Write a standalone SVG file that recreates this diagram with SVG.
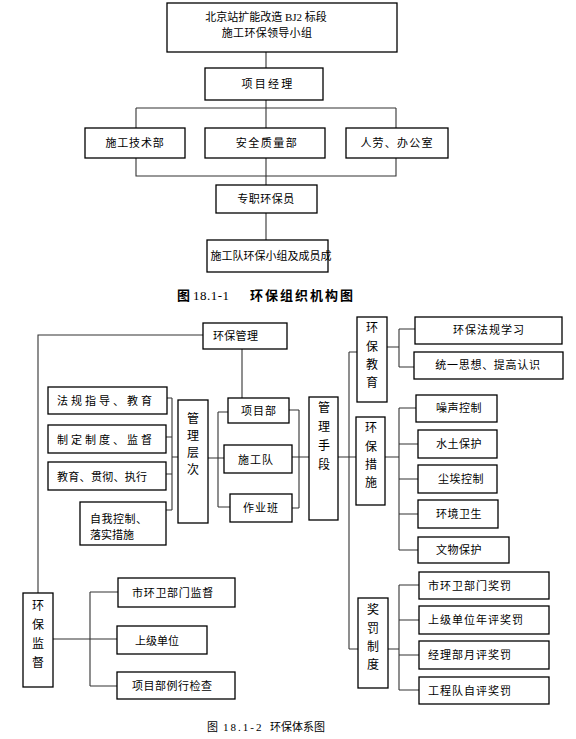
<svg xmlns="http://www.w3.org/2000/svg" width="576" height="739" viewBox="0 0 576 739">
<style>
.b{fill:#fff;stroke:#000;stroke-width:1.3}
.c{fill:none;stroke:#333;stroke-width:1.1}
text{font-family:"Liberation Serif","Noto Sans CJK SC",serif;fill:#000;font-size:11px}
.m{text-anchor:middle}
.v{text-anchor:middle;font-size:12px}
.cap{font-size:13px;font-weight:bold}
</style>
<rect width="576" height="739" fill="#fff"/>
<g id="connectors">
<path class="c" d="M266 52V68M266 100V128M136 108H396M136 108V128M396 108V128M136 158V176H396V158M266 158V185M266 213V240"/>
<path class="c" d="M203 335H38V593"/>
<path class="c" d="M242 349V398"/>
<path class="c" d="M167 398H172M166 437H172M166 474H172M166 510H172M172 398V510M172 457H178"/>
<path class="c" d="M208 458H218M218 412V507M218 412H228M218 458H224M218 507H230"/>
<path class="c" d="M289 410H299M292 508H299M299 410V508M292 457H309"/>
<path class="c" d="M338 457H356M349 352V649M349 352H357M349 649H358"/>
<path class="c" d="M387 347H399M399 329V367M399 329H415M399 367H414"/>
<path class="c" d="M385 457H399M399 408V550M399 408H416M399 444H418M399 479H418M399 514H418M399 550H418"/>
<path class="c" d="M388 649H399M399 585V690M399 585H419M399 620H419M399 655H419M399 690H419"/>
<path class="c" d="M53 639H117M90 592V686M90 592H118M90 686H117"/>
</g>
<g id="n_top"><rect class="b" x="167" y="3" width="230" height="49"/>
<text class="m" x="266" y="21">北京站扩能改造 BJ2 标段</text>
<text class="m" x="267" y="37" letter-spacing="0.3">施工环保领导小组</text></g>
<g id="n_xmjl"><rect class="b" x="205" y="68" width="118" height="32"/><text class="m" x="268" y="88" letter-spacing="2.3">项目经理</text></g>
<g id="n_sgjsb"><rect class="b" x="85" y="128" width="100" height="30"/><text class="m" x="135" y="147" letter-spacing="0.8">施工技术部</text></g>
<g id="n_aqzlb"><rect class="b" x="205" y="128" width="120" height="30"/><text class="m" x="267" y="147" letter-spacing="1.5">安全质量部</text></g>
<g id="n_rlbgs"><rect class="b" x="346" y="128" width="102" height="30"/><text class="m" x="397" y="147" letter-spacing="1.2">人劳、办公室</text></g>
<g id="n_zzhby"><rect class="b" x="216" y="185" width="101" height="28"/><text class="m" x="266" y="203" letter-spacing="0.5">专职环保员</text></g>
<g id="n_sgd"><rect class="b" x="207" y="240" width="121" height="32"/><text class="m" x="271" y="260" font-size="10.5">施工队环保小组及成员成</text></g>
<text class="cap" x="177" y="300">图<tspan x="193" font-weight="normal" letter-spacing="0.5">18.1-1</tspan><tspan x="250" letter-spacing="2">环保组织机构图</tspan></text>

<g id="n_hbgl"><rect class="b" x="203" y="323" width="84" height="26"/><text x="213" y="340" letter-spacing="0.3">环保管理</text></g>
<g id="n_fg"><rect class="b" x="48" y="387" width="119" height="27"/><text x="57" y="405" font-size="14" letter-spacing="3">法规指导、教育</text></g>
<g id="n_zd"><rect class="b" x="48" y="425" width="118" height="28"/><text x="57" y="444" font-size="14" letter-spacing="3">制定制度、监督</text></g>
<g id="n_jy"><rect class="b" x="48" y="462" width="118" height="28"/><text x="57" y="481" font-size="14" letter-spacing="0.3">教育、贯彻、执行</text></g>
<g id="n_zw"><rect class="b" x="80" y="502" width="86" height="43"/><text x="90" y="523" font-size="13" letter-spacing="0.5">自我控制、</text><text x="90" y="539" font-size="13">落实措施</text></g>
<g id="n_glcc"><rect class="b" x="178" y="400" width="30" height="123"/>
<text class="v" font-size="13" x="193" y="423">管</text><text class="v" font-size="13" x="193" y="440">理</text><text class="v" font-size="13" x="193" y="457">层</text><text class="v" font-size="13" x="193" y="474">次</text></g>
<g id="n_xmb"><rect class="b" x="228" y="398" width="61" height="25"/><text class="m" x="259" y="415" letter-spacing="1">项目部</text></g>
<g id="n_sgd2"><rect class="b" x="224" y="445" width="68" height="28"/><text class="m" x="256" y="464" letter-spacing="1">施工队</text></g>
<g id="n_zyb"><rect class="b" x="230" y="494" width="62" height="28"/><text class="m" x="261" y="512" letter-spacing="1">作业班</text></g>
<g id="n_glsd"><rect class="b" x="309" y="397" width="29" height="123"/>
<text class="v" x="324" y="412">管</text><text class="v" x="324" y="431">理</text><text class="v" x="324" y="450">手</text><text class="v" x="324" y="469">段</text></g>
<g id="n_hbjy"><rect class="b" x="357" y="317" width="30" height="85"/>
<text class="v" x="372" y="332">环</text><text class="v" x="372" y="351">保</text><text class="v" x="372" y="369">教</text><text class="v" x="372" y="387">育</text></g>
<g id="n_fgxx"><rect class="b" x="415" y="317" width="147" height="27"/><text class="m" x="489" y="334" letter-spacing="1">环保法规学习</text></g>
<g id="n_tysx"><rect class="b" x="414" y="352" width="149" height="27"/><text class="m" x="488" y="369" letter-spacing="0.7">统一思想、提高认识</text></g>
<g id="n_hbcs"><rect class="b" x="356" y="417" width="29" height="88"/>
<text class="v" x="371" y="432">环</text><text class="v" x="371" y="451">保</text><text class="v" x="371" y="469">措</text><text class="v" x="371" y="487">施</text></g>
<g id="n_zs"><rect class="b" x="416" y="395" width="81" height="27"/><text class="m" x="459" y="412" letter-spacing="0.5">噪声控制</text></g>
<g id="n_st"><rect class="b" x="418" y="430" width="79" height="28"/><text class="m" x="459" y="448" letter-spacing="0.5">水土保护</text></g>
<g id="n_ca"><rect class="b" x="418" y="465" width="79" height="28"/><text class="m" x="461" y="483" letter-spacing="0.5">尘埃控制</text></g>
<g id="n_hj"><rect class="b" x="418" y="500" width="80" height="28"/><text class="m" x="459" y="518" letter-spacing="0.5">环境卫生</text></g>
<g id="n_ww"><rect class="b" x="418" y="537" width="91" height="26"/><text class="m" x="459" y="554" letter-spacing="0.5">文物保护</text></g>
<g id="n_jfzd"><rect class="b" x="358" y="598" width="30" height="90"/>
<text class="v" x="373" y="614">奖</text><text class="v" x="373" y="633">罚</text><text class="v" x="373" y="651">制</text><text class="v" x="373" y="669">度</text></g>
<g id="n_jf1"><rect class="b" x="419" y="572" width="130" height="27"/><text x="428" y="590" font-size="12" letter-spacing="1">市环卫部门奖罚</text></g>
<g id="n_jf2"><rect class="b" x="419" y="606" width="130" height="28"/><text x="428" y="624" font-size="12" letter-spacing="1">上级单位年评奖罚</text></g>
<g id="n_jf3"><rect class="b" x="419" y="641" width="130" height="28"/><text x="428" y="659" font-size="12" letter-spacing="1">经理部月评奖罚</text></g>
<g id="n_jf4"><rect class="b" x="419" y="677" width="130" height="27"/><text x="428" y="695" font-size="12" letter-spacing="1">工程队自评奖罚</text></g>
<g id="n_hbjd"><rect class="b" x="23" y="593" width="30" height="94"/>
<text class="v" font-size="13" x="38" y="610">环</text><text class="v" font-size="13" x="38" y="629">保</text><text class="v" font-size="13" x="38" y="648">监</text><text class="v" font-size="13" x="38" y="667">督</text></g>
<g id="n_jd1"><rect class="b" x="118" y="578" width="117" height="29"/><text x="132" y="597" font-size="13" letter-spacing="0.7">市环卫部门监督</text></g>
<g id="n_jd2"><rect class="b" x="117" y="626" width="90" height="28"/><text x="135" y="645" font-size="13">上级单位</text></g>
<g id="n_jd3"><rect class="b" x="117" y="672" width="118" height="27"/><text x="132" y="690" font-size="13" letter-spacing="0.5">项目部例行检查</text></g>
<text x="207" y="731" font-size="13">图<tspan x="223" letter-spacing="2">18.1-2</tspan><tspan x="270">环保体系图</tspan></text>
</svg>
